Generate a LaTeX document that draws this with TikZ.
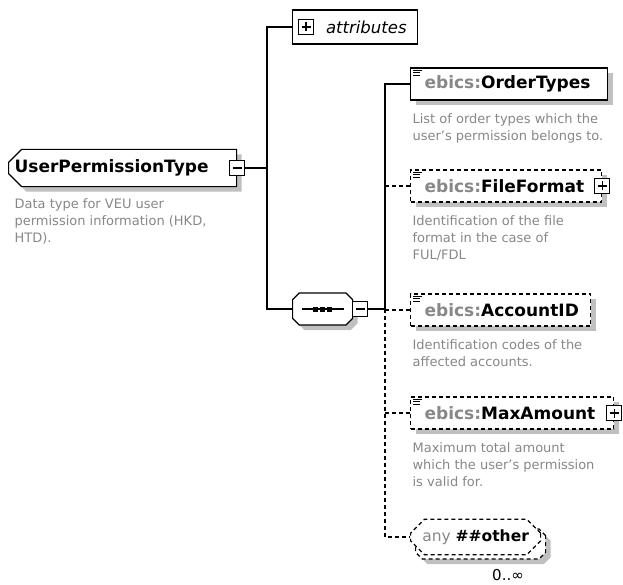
\documentclass[tikz,border=0pt]{standalone}
\usepackage{fontspec}
\setmainfont{DejaVu Sans}
\usepackage{xcolor}
\usetikzlibrary{positioning, shapes.misc, shadows}
\definecolor{txtgray}{RGB}{136,136,136}
\definecolor{shdgray}{RGB}{192,192,192}
\tikzset{shd/.style={drop shadow={shadow xshift=5pt, shadow yshift=-5pt, fill=shdgray, opacity=1}}}
\tikzset{opt/.style={dash pattern=on 4pt off 3pt}}
\tikzset{octa/.style={chamfered rectangle, chamfered rectangle xsep=7pt, chamfered rectangle ysep=7pt}}
\tikzset{elem/.style={draw, fill=white, shd, anchor=west, minimum height=32pt, inner xsep=14pt, text width=#1, align=left, font=\fontsize{17}{19}\selectfont\bfseries}}
\tikzset{desc/.style={anchor=north west, align=left, inner sep=0pt, text=txtgray, font=\fontsize{13}{17}\selectfont}}
\tikzset{minusbox/.style={draw, fill=white, minimum size=15pt, inner sep=0pt, path picture={\draw ([xshift=3pt]path picture bounding box.west) -- ([xshift=-3pt]path picture bounding box.east);}}}
\tikzset{plusbox/.style={minusbox, path picture={\draw ([xshift=3pt]path picture bounding box.west) -- ([xshift=-3pt]path picture bounding box.east); \draw ([yshift=3pt]path picture bounding box.south) -- ([yshift=-3pt]path picture bounding box.north);}}}
\newcommand{\ns}[1]{\textcolor{txtgray}{ebics:}#1}
\newcommand{\listicon}[1]{\draw[line width=0.9pt] ([shift={(3pt,-3pt)}]#1) -- ++(9pt,0pt) ([shift={(3pt,-5.5pt)}]#1) -- ++(7pt,0pt) ([shift={(3pt,-8pt)}]#1) -- ++(7pt,0pt);}
\newcommand{\seqicon}[1]{\draw ([xshift=-21pt]#1) -- ([xshift=21pt]#1); \foreach \dx in {-7,0,7} \fill ([xshift=\dx pt]#1) ++(-2.5pt,-2.5pt) rectangle ++(5pt,5pt);}

\begin{document}
\begin{tikzpicture}[x=1pt, y=-1pt, line width=1.2pt]
\useasboundingbox[fill=white] (0,0) rectangle (623,585);
\node[draw, fill=white, shd, octa, chamfered rectangle corners={north west, south west}, chamfered rectangle xsep=6pt, anchor=west, minimum height=34pt, inner xsep=0pt, text width=216pt, align=left, font=\fontsize{17}{19}\selectfont\bfseries] (root) at (8,168) {UserPermissionType};
\node[minusbox] (rootminus) at (root.east) {};
\node[desc] (rootdesc) at (14,198) {Data type for VEU user\\permission information (HKD,\\HTD).};
\node[draw, fill=white, anchor=west, minimum height=34pt, inner xsep=11pt, text width=103pt, align=right, font=\fontsize{16.5}{18}\selectfont\itshape] (attr) at (292,27) {attributes};
\node[plusbox] (attrplus) at (306,27) {};
\node[draw, fill=white, shd, octa, minimum width=60pt, minimum height=32pt, anchor=west] (seq) at (292,309) {};
\seqicon{seq.center}
\node[minusbox, right=-1pt of seq] (seqminus) {};
\node[elem=169pt] (ordertypes) at (410,84) {\ns{OrderTypes}};
\node[desc] (otdesc) at (412,113) {List of order types which the\\user's permission belongs to.};
\node[elem=163pt, opt] (fileformat) at (410,186) {\ns{FileFormat}};
\node[plusbox] (ffplus) at (fileformat.east) {};
\node[desc] (ffdesc) at (412,215) {Identification of the file\\format in the case of\\FUL/FDL};
\node[elem=152pt, opt] (accountid) at (410,310) {\ns{AccountID}};
\node[desc] (aiddesc) at (412,339) {Identification codes of the\\affected accounts.};
\node[elem=175pt, opt] (maxamount) at (410,413) {\ns{MaxAmount}};
\node[plusbox] (maplus) at (maxamount.east) {};
\node[desc] (madesc) at (412,442) {Maximum total amount\\which the user's permission\\is valid for.};
\node[draw, fill=white, shd, opt, octa, anchor=west, minimum width=130pt, minimum height=30pt] (anyback) at (415,544) {};
\node[draw, fill=white, opt, octa, anchor=west, minimum width=130pt, minimum height=30pt, font=\fontsize{15.5}{17}\selectfont] (any) at (410,537) {\textcolor{txtgray}{any}\ \textbf{\#\#other}};
\node[font=\fontsize{15}{17}\selectfont] (occ) at (508,575) {0..∞};
\foreach \n in {ordertypes, fileformat, accountid, maxamount} {\listicon{\n.north west}}
\coordinate (rbus) at (267,0);
\coordinate (cbus) at (385,0);
\draw (rootminus.east) -- (rootminus.east -| rbus);
\draw (attr.west) -- (attr.west -| rbus) -- (seq.west -| rbus) -- (seq.west);
\draw (seqminus.east) -- (seqminus.east -| cbus);
\draw (ordertypes.west) -- (ordertypes.west -| cbus) -- (seqminus.east -| cbus);
\draw[opt] (seqminus.east -| cbus) -- (any.west -| cbus) -- (any.west);
\foreach \n in {fileformat, accountid, maxamount} {\draw[opt] (\n.west -| cbus) -- (\n.west);}
\end{tikzpicture}
\end{document}
